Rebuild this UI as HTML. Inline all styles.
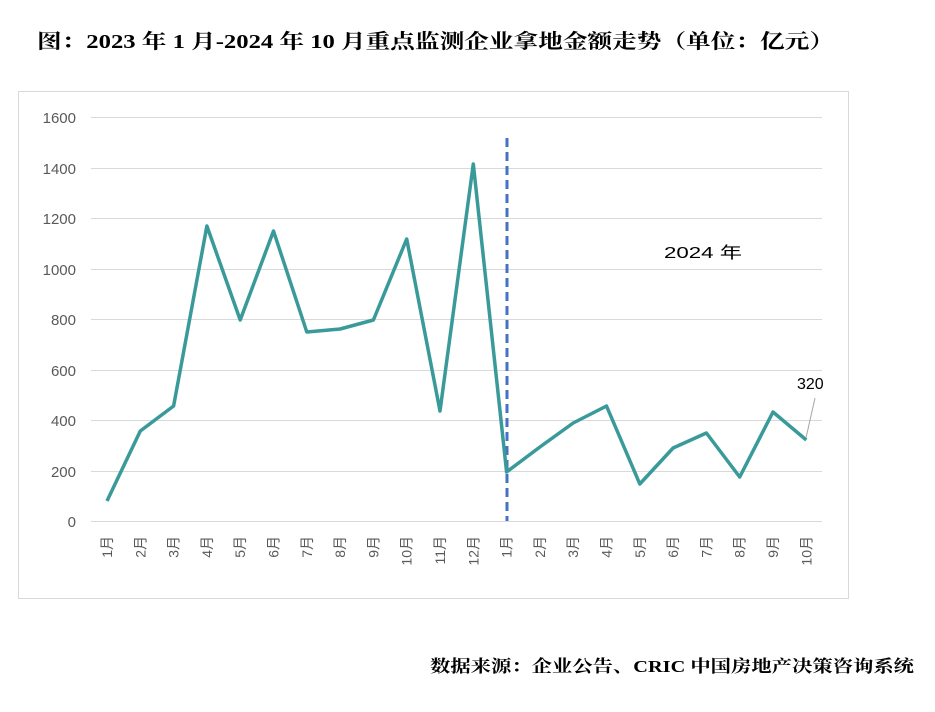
<!DOCTYPE html>
<html><head><meta charset="utf-8"><style>
body{margin:0;background:#fff;width:935px;height:707px;overflow:hidden;font-family:"Liberation Sans","Noto Sans CJK SC",sans-serif;}
</style></head><body>
<svg width="935" height="707" xmlns="http://www.w3.org/2000/svg">
<text x="37" y="48" font-size="20" font-weight="bold" font-family="Liberation Serif,Noto Serif CJK SC,serif" fill="#000" textLength="797" lengthAdjust="spacingAndGlyphs">图：2023 年 1 月-2024 年 10 月重点监测企业拿地金额走势（单位：亿元）</text>
<rect x="18.5" y="91.5" width="830" height="507" fill="#fff" stroke="#d9d9d9"/>
<g stroke="#d9d9d9" stroke-width="1">
<line x1="91" x2="822" y1="117.5" y2="117.5"/><line x1="91" x2="822" y1="168.5" y2="168.5"/>
<line x1="91" x2="822" y1="218.5" y2="218.5"/><line x1="91" x2="822" y1="269.5" y2="269.5"/>
<line x1="91" x2="822" y1="319.5" y2="319.5"/><line x1="91" x2="822" y1="370.5" y2="370.5"/>
<line x1="91" x2="822" y1="420.5" y2="420.5"/><line x1="91" x2="822" y1="471.5" y2="471.5"/>
<line x1="91" x2="822" y1="521.5" y2="521.5"/>
</g>
<g font-size="15" fill="#595959" text-anchor="end">
<text x="76" y="123">1600</text><text x="76" y="174">1400</text><text x="76" y="224">1200</text>
<text x="76" y="275">1000</text><text x="76" y="325">800</text><text x="76" y="376">600</text>
<text x="76" y="426">400</text><text x="76" y="477">200</text><text x="76" y="527">0</text>
</g>
<rect x="645" y="232" width="128" height="36" fill="#fff"/>
<text x="664" y="258" font-size="16" fill="#000" textLength="78" lengthAdjust="spacingAndGlyphs">2024 年</text>
<line x1="507" y1="138" x2="507" y2="521" stroke="#4472c4" stroke-width="3" stroke-dasharray="9,5"/>
<polyline fill="none" stroke="#3a9a9a" stroke-width="3.5" stroke-linejoin="round" points="107,501 140.3,431 173.6,406 206.9,226 240.2,320 273.5,231 306.8,332 340.1,329 373.4,320 406.7,239 440,411 473.3,164 506.6,472 539.9,447 573.2,423 606.5,406 639.8,484 673.1,448 706.4,433 739.7,477 773,412 806.3,440"/>
<line x1="806" y1="438" x2="815" y2="398" stroke="#a6a6a6" stroke-width="1"/>
<text x="797" y="389" font-size="16" fill="#000">320</text>
<g font-size="14" fill="#595959">
<text transform="translate(112,536) rotate(-90)" text-anchor="end">1月</text>
<text transform="translate(145.3,536) rotate(-90)" text-anchor="end">2月</text>
<text transform="translate(178.6,536) rotate(-90)" text-anchor="end">3月</text>
<text transform="translate(211.9,536) rotate(-90)" text-anchor="end">4月</text>
<text transform="translate(245.2,536) rotate(-90)" text-anchor="end">5月</text>
<text transform="translate(278.5,536) rotate(-90)" text-anchor="end">6月</text>
<text transform="translate(311.8,536) rotate(-90)" text-anchor="end">7月</text>
<text transform="translate(345.1,536) rotate(-90)" text-anchor="end">8月</text>
<text transform="translate(378.4,536) rotate(-90)" text-anchor="end">9月</text>
<text transform="translate(411.7,536) rotate(-90)" text-anchor="end">10月</text>
<text transform="translate(445,536) rotate(-90)" text-anchor="end">11月</text>
<text transform="translate(478.3,536) rotate(-90)" text-anchor="end">12月</text>
<text transform="translate(511.6,536) rotate(-90)" text-anchor="end">1月</text>
<text transform="translate(544.9,536) rotate(-90)" text-anchor="end">2月</text>
<text transform="translate(578.2,536) rotate(-90)" text-anchor="end">3月</text>
<text transform="translate(611.5,536) rotate(-90)" text-anchor="end">4月</text>
<text transform="translate(644.8,536) rotate(-90)" text-anchor="end">5月</text>
<text transform="translate(678.1,536) rotate(-90)" text-anchor="end">6月</text>
<text transform="translate(711.4,536) rotate(-90)" text-anchor="end">7月</text>
<text transform="translate(744.7,536) rotate(-90)" text-anchor="end">8月</text>
<text transform="translate(778,536) rotate(-90)" text-anchor="end">9月</text>
<text transform="translate(811.3,536) rotate(-90)" text-anchor="end">10月</text>
</g>
<text x="430" y="672" font-size="17" font-weight="bold" font-family="Liberation Serif,Noto Serif CJK SC,serif" fill="#000" textLength="484" lengthAdjust="spacingAndGlyphs">数据来源：企业公告、CRIC 中国房地产决策咨询系统</text>
</svg>
</body></html>
